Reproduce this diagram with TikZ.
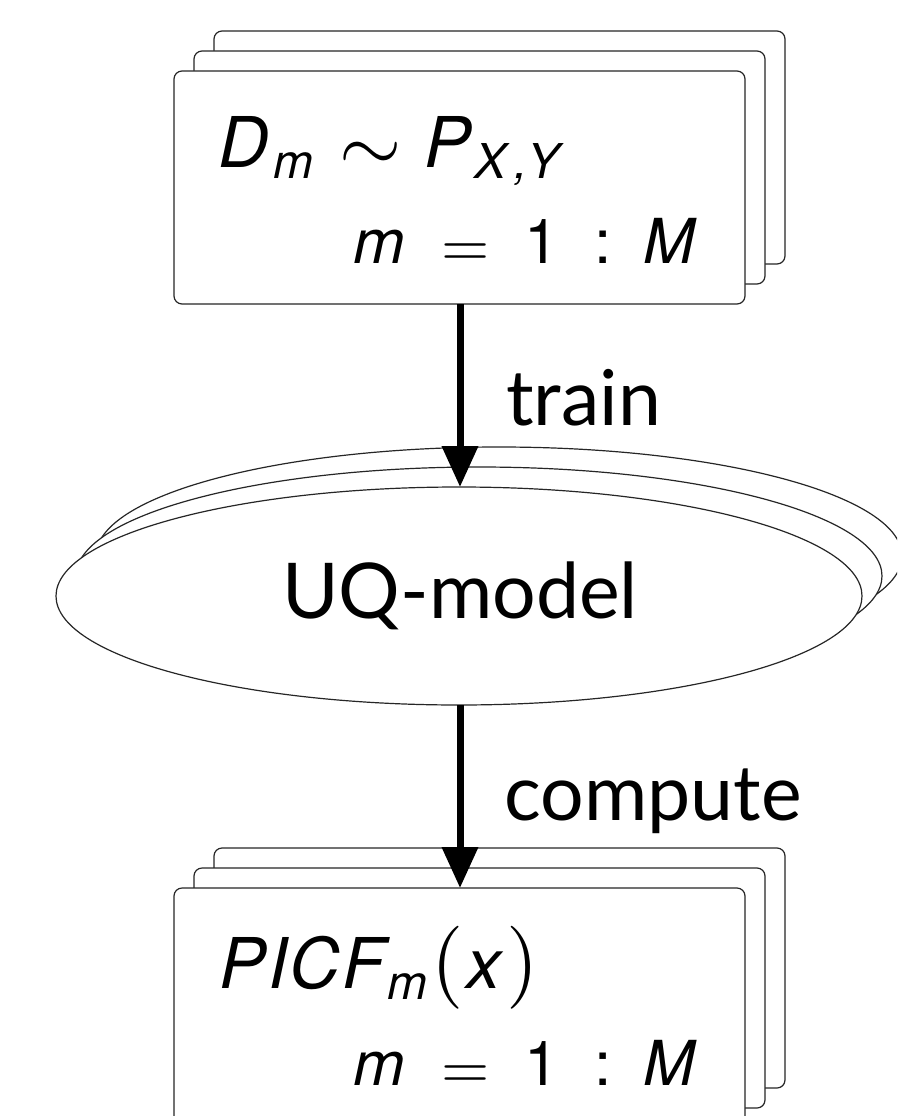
\documentclass[tikz,border=0pt]{standalone}
\usepackage{fontspec}
\usepackage{graphicx}
\usetikzlibrary{arrows.meta,shapes.geometric}

\newfontfamily\heros{TeX Gyre Heros}
\newfontfamily\lato{Lato}
\newcommand\bigsz{\fontsize{70}{76}\selectfont}
\newcommand\rowsz{\fontsize{62}{68}\selectfont}
\newcommand\subsz{\fontsize{48}{52}\selectfont}
\newcommand\lowsub[1]{\raisebox{-11pt}{\subsz #1}}
\newcommand\cmsym[2]{\scalebox{#1}{\normalsize$#2$}}
% a glyph set in a box of fixed advance
\newcommand\slot[2]{\makebox[#1][l]{#2}}

\tikzset{
  sheet/.style={draw=black!85, line width=1.2pt, fill=white, rounded corners=8pt,
    minimum width=571pt, inner sep=0pt, outer sep=0pt},
  topsheet/.style={sheet, minimum height=233pt},
  botsheet/.style={sheet, minimum height=240pt},
  model/.style={ellipse, draw=black!85, line width=1.2pt, fill=white,
    minimum width=806pt, minimum height=218pt, inner sep=0pt, outer sep=0pt},
  flow/.style={line width=7pt, -{Triangle[length=41pt 0, width=35pt 0]}},
  label/.style={font=\lato\fontsize{77}{80}\selectfont, inner sep=0pt, anchor=base west},
  formula/.style={font=\heros, inner sep=0pt, anchor=base west},
}

\begin{document}
\begin{tikzpicture}[x=1pt, y=-1pt]
\useasboundingbox (0,0) rectangle (897,1116);
\clip (0,0) rectangle (897,1116);

% data sets: three stacked sheets
\node[topsheet] (data3) at (499.5,147.5) {};
\node[topsheet] (data2) at (479.5,167.5) {};
\node[topsheet] (data1) at (459.5,187.5) {};
\node[formula] (datatext) at (218,167)
  {\bigsz\itshape\slot{55pt}{D}\slot{66pt}{\lowsub{m}}\slot{85pt}{\raisebox{-4pt}{\cmsym{8}{\sim}}}%
   \slot{50pt}{P}\lowsub{\slot{40pt}{X}\slot{13pt}{,}Y}};
\node[formula] (datarange) at (353,263)
  {\rowsz\slot{88.5pt}{\itshape m}\slot{82.5pt}{\raisebox{-3pt}{\cmsym{6.2}{=}}}\slot{70.6pt}{1}\slot{48.4pt}{:}{\itshape M}};

% model: three stacked ellipses
\node[model] (model3) at (499,556) {};
\node[model] (model2) at (479,576) {};
\node[model] (model1) at (459,596) {};
\node[font=\lato\fontsize{77}{80}\selectfont, inner sep=0pt, anchor=base] (modeltext) at (460,618) {UQ-model};

% results: three stacked sheets
\node[botsheet] (res3) at (499.5,968) {};
\node[botsheet] (res2) at (479.5,988) {};
\node[botsheet] (res1) at (459.5,1008) {};
\node[formula] (restext) at (219,988)
  {\bigsz\itshape P\kern3pt I\kern1pt C\kern3pt F\kern2pt\lowsub{m}\kern4pt\cmsym{8.3}{(}\kern3pt x\kern5pt\cmsym{8.3}{)}};
\node[formula] (resrange) at (353,1085)
  {\rowsz\slot{88.5pt}{\itshape m}\slot{82.5pt}{\raisebox{-3pt}{\cmsym{6.2}{=}}}\slot{70.6pt}{1}\slot{48.4pt}{:}{\itshape M}};

% connectors
\draw[flow] (data1.south -| 460,0) -- (model1.north -| 460,0);
\draw[flow] (model1.south -| 460,0) -- (res1.north -| 460,0);
\node[label] (trainlbl) at (506,425) {train};
\node[label] (computelbl) at (504,820) {compute};
\end{tikzpicture}
\end{document}
